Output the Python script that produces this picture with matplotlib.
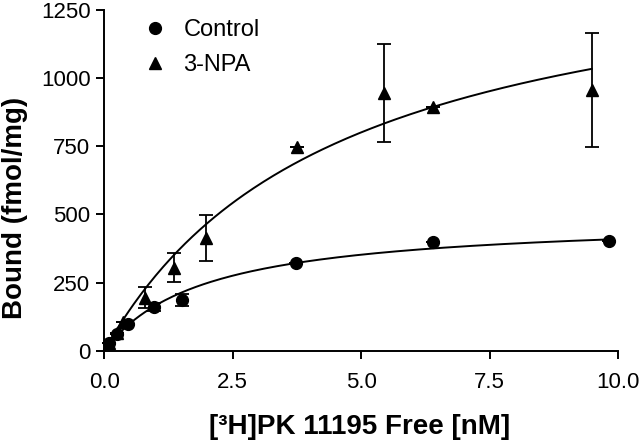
import numpy as np
import matplotlib
matplotlib.use("Agg")
import matplotlib.pyplot as plt

plt.rcParams['font.family'] = ['Liberation Sans', 'DejaVu Sans']

# Control data
ctrl_x = [0.10, 0.24, 0.47, 0.97, 1.51, 3.73, 6.39, 9.83]
ctrl_y = [28, 62, 98, 161, 186, 322, 398, 404]
ctrl_err = [0, 0, 0, 15, 22, 0, 0, 0]

# 3-NPA data
npa_x = [0.10, 0.24, 0.37, 0.79, 1.36, 1.98, 3.75, 5.44, 6.40, 9.49]
npa_y = [30, 65, 105, 195, 305, 414, 746, 946, 893, 956]
npa_err = [0, 0, 0, 40, 52, 85, 0, 180, 0, 210]

# one-site binding fit parameters (Bmax, Kd)
ctrl_fit = (489, 1.94)
npa_fit = (1530, 4.55)

xticks = [0.0, 2.5, 5.0, 7.5, 10.0]
yticks = [0, 250, 500, 750, 1000, 1250]

fig = plt.figure(figsize=(6.4, 4.43), dpi=100)
ax = fig.add_axes([0.163, 0.2083, 0.8026, 0.7691])

def fit_curve(xmax, p):
    xs = np.linspace(0, xmax, 200)
    return xs, p[0] * xs / (p[1] + xs)

xs, ys = fit_curve(max(ctrl_x), ctrl_fit)
ax.plot(xs, ys, color='black', lw=1.4, clip_on=False)
xs, ys = fit_curve(max(npa_x), npa_fit)
ax.plot(xs, ys, color='black', lw=1.4, clip_on=False)

ax.errorbar(ctrl_x, ctrl_y, yerr=ctrl_err, fmt='o', color='black', ms=8.5,
            capsize=5, elinewidth=1.3, capthick=1.3, clip_on=False, label='Control')
ax.errorbar(npa_x, npa_y, yerr=npa_err, fmt='^', color='black', ms=9,
            capsize=5, elinewidth=1.3, capthick=1.3, clip_on=False, label='3-NPA')

ax.set_xlim(0, 10)
ax.set_ylim(0, 1250)
ax.set_xticks(xticks)
ax.set_xticklabels([f'{t:.1f}' for t in xticks])
ax.set_yticks(yticks)
ax.set_yticklabels([str(t) for t in yticks])
for s in ['top', 'right']:
    ax.spines[s].set_visible(False)
for s in ['left', 'bottom']:
    ax.spines[s].set_linewidth(1.4)
ax.tick_params(direction='out', length=6, width=1.4, labelsize=16)
ax.tick_params(axis='x', pad=9)
ax.tick_params(axis='y', pad=4)

ax.set_xlabel('[³H]PK 11195 Free [nM]', fontsize=20, fontweight='bold', va='baseline')
ax.xaxis.set_label_coords(0.496, -0.243)
ax.set_ylabel('Bound (fmol/mg)', fontsize=20, fontweight='bold', va='center')
ax.yaxis.set_label_coords(-0.174, 0.42)

handles, labels = ax.get_legend_handles_labels()
leg = ax.legend([h[0] for h in handles], labels, loc='upper left',
                bbox_to_anchor=(0.03, 1.035), frameon=False, fontsize=17,
                handletextpad=0.6, labelspacing=0.55, handlelength=1.2)

fig.savefig('out.png', dpi=100)
